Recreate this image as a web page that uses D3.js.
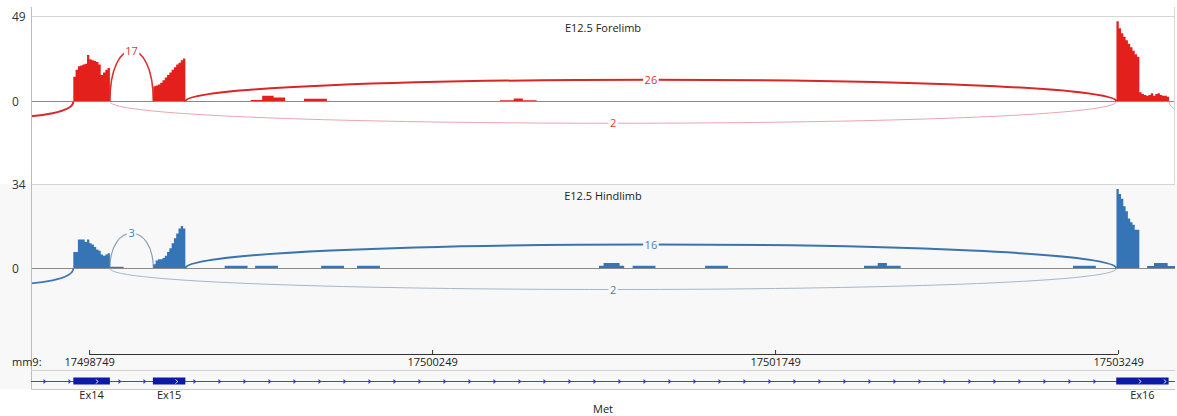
<!DOCTYPE html>
<html>
<head>
<meta charset="utf-8">
<script src="https://cdn.jsdelivr.net/npm/d3@7"></script>
<style>
  body { margin: 0; background: #fff; }
  svg { display: block; font-family: "Open Sans", sans-serif; }
</style>
</head>
<body>
<svg id="chart" width="1177" height="416"></svg>
<script>
// mm9 window around Met exons 14-16
var viewStart = 17498495, viewEnd = 17503498;
var tickValues = [17498749, 17500249, 17501749, 17503249];
var binSize = 10;

// coverage blocks: [first base, depth per 10 bp bin]
var foreCoverage = [
  [17498680, [14, 18, 20, 20.5, 21, 21.5, 26.5, 24, 23.5, 23, 22.5, 21, 15, 16.5, 18, 19]],
  [17499030, [8.5, 9, 9.5, 10.5, 12, 13.5, 15, 16.5, 18, 19.5, 21, 22, 23.5, 24.5]],
  [17499456, [0.6, 0.6, 0.6, 0.6, 0.6, 3, 3, 3, 3, 3, 2, 2, 2, 2, 2]],
  [17499689, [1.3, 1.3, 1.3, 1.3, 1.3, 1.3, 1.3, 1.3, 1.3, 1.3]],
  [17500546, [0.5, 0.5, 0.5, 0.5, 0.5, 0.5, 1.5, 1.5, 1.5, 1.5, 0.5, 0.5, 0.5, 0.5, 0.5, 0.5]],
  [17503242, [46, 42, 39, 37, 35, 33, 31, 29, 27, 25.5, 5, 4, 3.5, 3, 3.5, 4.5, 3, 4, 4.5, 3.5, 3, 3, 2.5]]
];
var hindCoverage = [
  [17498680, [6.5, 6.5, 11.5, 11.5, 11.5, 10.5, 11.5, 10, 9.5, 8.5, 7.5, 7, 5.5, 5, 5.5, 6]],
  [17498840, [0.5, 0.5, 0.5, 0.5, 0.5, 0.5]],
  [17499030, [1.5, 3, 3.5, 3.5, 4, 5, 6.5, 8, 10, 12, 14, 16, 17, 16]],
  [17499342, [0.9, 0.9, 0.9, 0.9, 0.9, 0.9, 0.9, 0.9, 0.9, 0.9]],
  [17499475, [0.9, 0.9, 0.9, 0.9, 0.9, 0.9, 0.9, 0.9, 0.9, 0.9]],
  [17499764, [0.9, 0.9, 0.9, 0.9, 0.9, 0.9, 0.9, 0.9, 0.9, 0.9]],
  [17499921, [0.9, 0.9, 0.9, 0.9, 0.9, 0.9, 0.9, 0.9, 0.9, 0.9]],
  [17500979, [0.9, 0.9, 2, 2, 2, 2, 2, 2, 2, 0.9, 0.9]],
  [17501126, [0.9, 0.9, 0.9, 0.9, 0.9, 0.9, 0.9, 0.9, 0.9, 0.9]],
  [17501443, [0.9, 0.9, 0.9, 0.9, 0.9, 0.9, 0.9, 0.9, 0.9, 0.9]],
  [17502138, [0.9, 0.9, 0.9, 0.9, 0.9, 0.9, 2, 2, 2, 2, 0.9, 0.9, 0.9, 0.9, 0.9, 0.9]],
  [17503052, [0.9, 0.9, 0.9, 0.9, 0.9, 0.9, 0.9, 0.9, 0.9, 0.9]],
  [17503242, [32, 30, 28, 25, 23, 20, 18.5, 17.5, 15.5, 15.5]],
  [17503376, [0.8, 0.8, 0.8, 2, 2, 2, 2, 2, 2, 0.8, 0.8, 0.8, 0.8]]
];

// junctions: [donor, acceptor, reads, side]; null reads = label off screen
var foreJunctions = [
  [17498840, 17499030, 17, "up"],
  [17499170, 17503242, 26, "up"],
  [17498840, 17503242, 2, "down"],
  [17498100, 17498680, null, "down"],
  [17503472, 17503900, null, "down"]
];
var hindJunctions = [
  [17498840, 17499030, 3, "up"],
  [17499170, 17503242, 16, "up"],
  [17498840, 17503242, 2, "down"],
  [17498100, 17498680, null, "down"]
];

var exons = [
  [17498680, 17498840, "Ex14"],
  [17499028, 17499170, "Ex15"],
  [17503241, 17503470, "Ex16"]
];

var svg = d3.select("#chart");
var left = 31, right = 1175;
var xs = d3.scaleLinear().domain([viewStart, viewEnd]).range([left, right]);

// backgrounds
svg.append("rect").attr("x", 0).attr("y", 184).attr("width", 1177).attr("height", 205).attr("fill", "#f8f8f8");

function drawPanel(cfg) {
  var ys = d3.scaleLinear().domain([0, cfg.max]).range([cfg.zero, cfg.top]);
  var g = svg.append("g");
  var clipId = "clip" + cfg.name;
  svg.append("clipPath").attr("id", clipId).append("rect")
    .attr("x", left).attr("y", cfg.top - 10).attr("width", right - left).attr("height", cfg.bottom - cfg.top + 10);

  g.append("line").attr("x1", left).attr("x2", right).attr("y1", cfg.top + 0.5).attr("y2", cfg.top + 0.5)
    .attr("stroke", "#d6d6d6");
  g.append("line").attr("x1", left).attr("x2", right).attr("y1", cfg.zero + 0.5).attr("y2", cfg.zero + 0.5)
    .attr("stroke", "#8a8a8a");

  g.append("text").attr("x", 12).attr("y", ys(cfg.max) + 4.5).attr("font-size", 12).attr("fill", "#333").text(cfg.max);
  g.append("text").attr("x", 12).attr("y", ys(0) + 4.5).attr("font-size", 12).attr("fill", "#333").text(0);
  g.append("text").attr("x", (left + right) / 2).attr("y", cfg.top + 16).attr("text-anchor", "middle")
    .attr("font-size", 11).attr("fill", "#222").text(cfg.title);

  var body = g.append("g").attr("clip-path", "url(#" + clipId + ")");

  // junction arcs, under the coverage
  var arcs = body.append("g").attr("fill", "none");
  cfg.junctions.forEach(function(j, i) {
    var x1 = xs(j[0]), x2 = xs(j[1]);
    var h = cfg.arcH[i] * (j[3] === "up" ? -1 : 1);
    var y0 = cfg.zero + 0.5;
    var p = d3.path();
    p.moveTo(x1, y0);
    p.bezierCurveTo(x1, y0 + h, x2, y0 + h, x2, y0);
    arcs.append("path").attr("d", p.toString())
      .attr("stroke", cfg.arcColor[i]).attr("stroke-width", cfg.arcWidth[i]);
  });

  var area = d3.area().curve(d3.curveStepAfter)
    .x(function(d) { return xs(d[0]); })
    .y0(ys(0)).y1(function(d) { return ys(d[1]); });
  cfg.cov.forEach(function(block) {
    var pts = block[1].map(function(v, i) { return [block[0] + i * binSize, v]; });
    pts.push([block[0] + block[1].length * binSize, block[1][block[1].length - 1]]);
    body.append("path").attr("d", area(pts)).attr("fill", cfg.color);
  });

  // read-count labels
  cfg.junctions.forEach(function(j, i) {
    if (j[2] === null) return;
    var xm = (xs(j[0]) + xs(j[1])) / 2;
    var ym = cfg.zero + 0.5 + 0.75 * cfg.arcH[i] * (j[3] === "up" ? -1 : 1);
    var t = body.append("text").attr("x", xm).attr("y", ym + 4).attr("text-anchor", "middle")
      .attr("font-size", 11).attr("fill", cfg.labelColor).text(j[2]);
    var bb = t.node().getBBox();
    body.insert("rect", "text").attr("x", bb.x - 1.5).attr("y", ym - 4).attr("width", bb.width + 3).attr("height", 8)
      .attr("fill", cfg.labelBg);
  });
}

drawPanel({
  name: "fore", title: "E12.5 Forelimb", max: 49, top: 16, zero: 101, bottom: 183,
  cov: foreCoverage, junctions: foreJunctions, color: "#e3201c",
  arcH: [68, 29, 29, 21, 20],
  arcColor: ["#dc3030", "#d92626", "#eba5ad", "#d82a2a", "#eba5ad"],
  arcWidth: [1.6, 2, 1, 2, 1],
  labelColor: "#e3342f", labelBg: "#fff"
});
drawPanel({
  name: "hind", title: "E12.5 Hindlimb", max: 34, top: 184, zero: 268, bottom: 345,
  cov: hindCoverage, junctions: hindJunctions, color: "#3575b5",
  arcH: [47, 32, 28, 21],
  arcColor: ["#8a9eb4", "#3a74ad", "#a6b7ca", "#3f78b2"],
  arcWidth: [1.2, 2, 1, 1.8],
  labelColor: "#4a7fb5", labelBg: "#f8f8f8"
});

// frame lines
svg.append("line").attr("x1", left + 0.5).attr("x2", left + 0.5).attr("y1", 7).attr("y2", 389).attr("stroke", "#bdbdbd");
svg.append("line").attr("x1", 1174.5).attr("x2", 1174.5).attr("y1", 7).attr("y2", 183).attr("stroke", "#d6d6d6");
svg.append("line").attr("x1", left).attr("x2", right).attr("y1", 370.5).attr("y2", 370.5).attr("stroke", "#d0d0d0");
svg.append("line").attr("x1", left).attr("x2", right).attr("y1", 389.5).attr("y2", 389.5).attr("stroke", "#c8c8c8");

// genomic ruler
var ruler = svg.append("g").attr("transform", "translate(0,354)")
  .call(d3.axisBottom(xs).tickValues(tickValues).tickFormat(d3.format("d"))
    .tickSizeInner(-4).tickSizeOuter(0).tickPadding(4));
ruler.select(".domain").remove();
ruler.selectAll(".tick line").attr("stroke", "#333");
ruler.selectAll(".tick text").attr("font-size", 11).attr("fill", "#222").attr("font-family", "Open Sans, sans-serif");
ruler.append("line").attr("x1", xs(tickValues[0])).attr("x2", xs(tickValues[tickValues.length - 1]))
  .attr("y1", 0.5).attr("y2", 0.5).attr("stroke", "#333");
svg.append("text").attr("x", 12).attr("y", 366).attr("font-size", 11).attr("fill", "#222").text("mm9:");

// gene model
var geneY = 381;
var gene = svg.append("g");
gene.append("line").attr("x1", left).attr("x2", right).attr("y1", geneY + 0.5).attr("y2", geneY + 0.5)
  .attr("stroke", "#4646c4").attr("stroke-width", 1);
function inExon(x) {
  return exons.some(function(e) { return x > xs(e[0]) - 2 && x < xs(e[1]) + 2; });
}
d3.range(45, right, 25).forEach(function(x) {
  if (inExon(x)) return;
  gene.append("path").attr("d", "M" + (x - 1.5) + "," + (geneY - 2) + "L" + (x + 1.5) + "," + (geneY + 0.5) + "L" + (x - 1.5) + "," + (geneY + 3) + "Z")
    .attr("fill", "#3a3ac8");
});
exons.forEach(function(e) {
  var x1 = xs(e[0]), x2 = xs(e[1]);
  gene.append("rect").attr("x", x1).attr("y", geneY - 3.5).attr("width", x2 - x1).attr("height", 7).attr("fill", "#0c1aa8");
  d3.range(x1 + 24, x2 - 2, 25).forEach(function(x) {
    gene.append("path").attr("d", "M" + (x - 1.5) + "," + (geneY - 1.5) + "L" + (x + 1) + "," + (geneY + 0.5) + "L" + (x - 1.5) + "," + (geneY + 2.5))
      .attr("fill", "none").attr("stroke", "#fff").attr("stroke-width", 0.8);
  });
  gene.append("text").attr("x", (x1 + x2) / 2).attr("y", 399).attr("text-anchor", "middle")
    .attr("font-size", 11).attr("fill", "#222").text(e[2]);
});
svg.append("text").attr("x", (left + right) / 2).attr("y", 413).attr("text-anchor", "middle")
  .attr("font-size", 11).attr("fill", "#222").text("Met");
</script>
</body>
</html>
